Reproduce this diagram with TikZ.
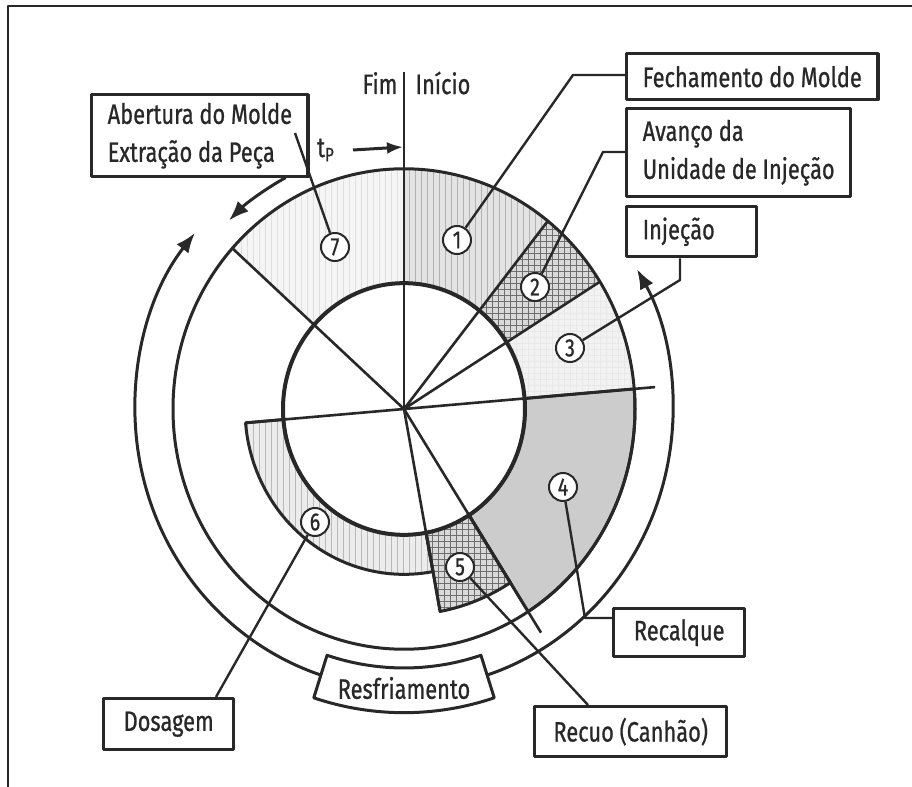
\documentclass[tikz,border=0pt]{standalone}
\usepackage{fontspec}
\setmainfont{Fira Sans}[FakeStretch=0.78, FakeBold=0.8]
\usetikzlibrary{arrows.meta, positioning, patterns, calc}
\usepackage{xcolor}
\definecolor{tinta}{RGB}{40, 40, 40}
\definecolor{trama}{RGB}{110, 110, 110}
\newcommand{\setor}[4]{(#1:#3) arc[start angle=#1, end angle=#2, radius=#3] -- (#2:#4) arc[start angle=#2, end angle=#1, radius=#4] -- cycle}

\begin{document}
\begin{tikzpicture}[x=0.5pt, y=0.5pt, line join=round,
  every node/.style={font=\fontsize{14}{19}\selectfont, text=tinta},
  caixa/.style={draw=tinta, line width=1.7pt, fill=white, align=left, inner xsep=8pt, inner ysep=3pt, anchor=north west},
  num/.style={circle, draw=tinta, line width=1pt, fill=white, inner sep=0pt, minimum size=14pt, font=\fontsize{12.5}{12.5}\selectfont},
  borda/.style={draw=tinta, line width=1.5pt},
  raio/.style={draw=tinta, line width=1.3pt},
  guia/.style={draw=tinta, line width=1.2pt},
  seta/.style={draw=tinta, line width=1.5pt, -{Latex[length=10pt, width=7.5pt]}}]

\useasboundingbox (0,0) rectangle (912,-787);
\fill[white] (0,0) rectangle (912,-787);
\draw[tinta, line width=1pt] (912,-6) -- (8,-6) -- (8,-787);

\begin{scope}[shift={(404,-409)}, yscale=1.04]
  % fases no anel
  \fill[gray!22] \setor{51.5}{90}{121}{231};
  \fill[pattern=vertical lines, pattern color=gray!60] \setor{51.5}{90}{121}{231};
  \fill[gray!30] \setor{32}{51.5}{121}{231};
  \fill[pattern=grid, pattern color=trama] \setor{32}{51.5}{121}{231};
  \fill[gray!10] \setor{4.8}{32}{121}{231};
  \fill[pattern=grid, pattern color=gray!18] \setor{4.8}{32}{121}{231};
  \fill[gray!40] \setor{-57.5}{4.8}{121}{231};
  \fill[gray!30] \setor{-79.5}{-57.5}{121}{198};
  \fill[pattern=grid, pattern color=trama] \setor{-79.5}{-57.5}{121}{198};
  \fill[gray!15] \setor{184.8}{280.5}{121}{159};
  \fill[pattern=vertical lines, pattern color=gray!55] \setor{184.8}{280.5}{121}{159};
  \fill[gray!8] \setor{90}{138}{121}{231};
  \fill[pattern=vertical lines, pattern color=gray!25] \setor{90}{138}{121}{231};
  % circulos
  \draw[borda] (0,0) circle[radius=231];
  \draw[tinta, line width=2pt] (0,0) circle[radius=121];
  \draw[borda] \setor{-79.5}{-57.5}{121}{198};
  \draw[borda] \setor{184.8}{280.5}{121}{159};
  \draw[borda] \setor{-57.5}{4.8}{121}{231};
  % raios
  \draw[raio] (0,0) -- (0,324);
  \draw[raio] (0,0) -- (51.5:231);
  \draw[raio] (0,0) -- (32:231);
  \draw[raio] (184.8:159) -- (4.8:252);
  \draw[raio] (0,0) -- (138:231);
  \draw[raio] (0,0) -- (-79.5:198);
  \draw[raio] (0,0) -- (-57.5:255);
  % ciclo
  \draw[seta] (252:269) arc[start angle=252, end angle=141, radius=269];
  \draw[seta] (-72:269) arc[start angle=-72, end angle=30, radius=269];
  \draw[seta] (118:252) arc[start angle=118, end angle=134, radius=252];
  \draw[borda, fill=white] \setor{-108}{-72}{249}{292};
\end{scope}

\node (resfriamento) at (404,-688) {Resfriamento};
\node (fim) at (380,-83) {Fim};
\node (inicio) at (443,-83) {Início};
\node (tp) at (326,-150) {t\textsubscript{P}};
\coordinate (tpini) at (353,-150);
\coordinate (tpfim) at (403,-147);
\draw[tinta, line width=1.5pt, -{Latex[length=8pt, width=6pt]}] (tpini) -- (tpfim);

\node[num] (n1) at (457,-240) {1};
\node[num] (n2) at (535,-287) {2};
\node[num] (n3) at (570,-348) {3};
\node[num] (n4) at (563,-487) {4};
\node[num] (n5) at (460,-567) {5};
\node[num] (n6) at (315,-522) {6};
\node[num] (n7) at (335,-247) {7};

\node[caixa, minimum width=117.5pt, minimum height=23pt] (fechamento) at (625,-52) {Fechamento do Molde};
\node[caixa, minimum width=108.5pt, minimum height=44pt] (avanco) at (625,-107) {Avanço da\\Unidade de Injeção};
\node[caixa, text width=49pt, minimum height=25pt] (injecao) at (625,-205) {Injeção};
\node[caixa, minimum width=102.5pt, minimum height=41pt] (abertura) at (90,-93) {Abertura do Molde\\Extração da Peça};
\node[caixa, minimum width=65.5pt, minimum height=24pt] (recalque) at (612,-607) {Recalque};
\node[caixa, minimum width=96pt, minimum height=25pt] (recuo) at (533,-705) {Recuo (Canhão)};
\node[caixa, minimum width=65pt, minimum height=25.5pt] (dosagem) at (102,-697) {Dosagem};

% linhas de chamada
\coordinate (d1) at (573,-75);
\coordinate (d2) at (603,-152);
\coordinate (d3) at (680,-280);
\coordinate (d4) at (585,-618);
\coordinate (d5) at (588,-705);
\coordinate (d6) at (216,-697);
\coordinate (d7) at (295,-133);
\draw[guia] (n1) -- (d1) -- (d1 -| fechamento.west);
\draw[guia] (n2) -- (d2) -- (d2 -| avanco.west);
\draw[guia] (n3) -- (d3) -- (d3 |- injecao.south);
\draw[guia] (n4) -- (d4) -- (d4 -| recalque.west);
\draw[guia] (n5) -- (d5);
\draw[guia] (n6) -- (d6);
\draw[guia] (d7) -- (n7);
\end{tikzpicture}
\end{document}
